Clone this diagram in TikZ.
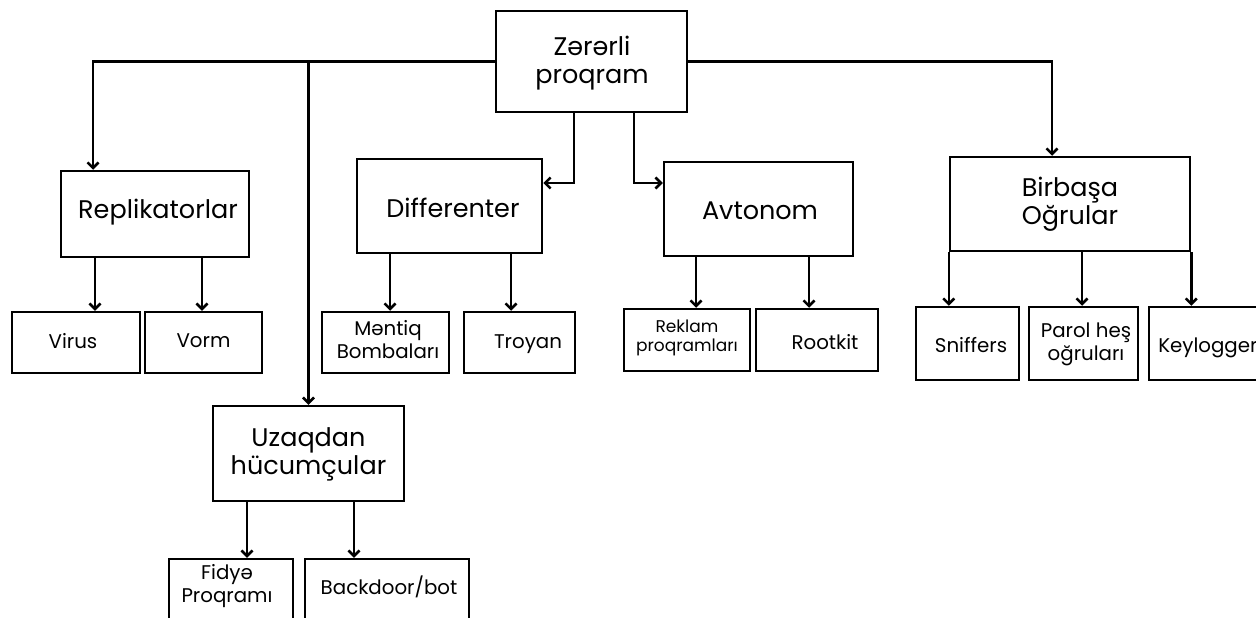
\documentclass[tikz,border=0pt]{standalone}
\usepackage{fontspec}
\setmainfont{Poppins}
\usetikzlibrary{arrows.meta}
\begin{document}
\begin{tikzpicture}[x=1pt,y=-1pt,
  line width=2.5pt,
  box/.style={draw=black, line width=2.5pt, rectangle, inner sep=0pt},
  lbl/.style={inner sep=0pt, align=center, font=\fontsize{25.5}{28}\selectfont},
  slbl/.style={inner sep=0pt, align=center, font=\fontsize{19.8}{23}\selectfont},
  tlbl/.style={inner sep=0pt, align=center, font=\fontsize{17}{19}\selectfont},
  arr/.style={-{Straight Barb[length=5.5pt,width=11pt]}, line width=2.5pt}]
\useasboundingbox (0,0) rectangle (1256,618);
\clip (0,0) rectangle (1256,618);

% boxes
\node[box, minimum width=191pt, minimum height=101pt] (root) at (591.5,61.5) {};
\node[box, minimum width=188pt, minimum height=86pt] (repl) at (155,214) {};
\node[box, minimum width=128pt, minimum height=61pt] (virus) at (76,342.5) {};
\node[box, minimum width=117pt, minimum height=61pt] (vorm) at (203.5,342.5) {};
\node[box, minimum width=185pt, minimum height=94pt] (diff) at (449.5,206) {};
\node[box, minimum width=127pt, minimum height=61pt] (mentiq) at (385.5,342.5) {};
\node[box, minimum width=111pt, minimum height=61pt] (troyan) at (519.5,342.5) {};
\node[box, minimum width=189pt, minimum height=94pt] (avt) at (758.5,209) {};
\node[box, minimum width=126pt, minimum height=62pt] (reklam) at (687,340) {};
\node[box, minimum width=122pt, minimum height=62pt] (rootkit) at (817,340) {};
\node[box, minimum width=240pt, minimum height=94pt] (bir) at (1070,204) {};
\node[box, minimum width=103pt, minimum height=73pt] (sniff) at (967.5,343.5) {};
\node[box, minimum width=109pt, minimum height=73pt] (parol) at (1083.5,343.5) {};
\node[box, minimum width=141pt, minimum height=73pt] (keylog) at (1219.5,343.5) {};
\node[box, minimum width=191pt, minimum height=95pt] (uz) at (308.5,453.5) {};
\node[box, minimum width=124pt, minimum height=91pt] (fidye) at (231,604.5) {};
\node[box, minimum width=164pt, minimum height=91pt] (backdoor) at (387,604.5) {};

% labels
\node[lbl] (t-root) at (592,63) {Zərərli\\proqram};
\node[lbl] (t-repl) at (158,212) {Replikatorlar};
\node[slbl] (t-virus) at (73,341) {Virus};
\node[slbl] (t-vorm) at (203.5,341) {Vorm};
\node[lbl] (t-diff) at (453,208) {Differenter};
\node[slbl] (t-mentiq) at (388,340) {Məntiq\\Bombaları};
\node[slbl] (t-troyan) at (528,344) {Troyan};
\node[lbl] (t-avt) at (760,211) {Avtonom};
\node[tlbl] (t-reklam) at (687,338) {Reklam\\proqramları};
\node[slbl] (t-rootkit) at (825,342) {Rootkit};
\node[lbl] (t-bir) at (1070,204) {Birbaşa\\Oğrular};
\node[slbl] (t-sniff) at (971,345) {Sniffers};
\node[slbl] (t-parol) at (1086,344) {Parol heş\\oğruları};
\node[slbl, anchor=west] (t-keylog) at (1157,348) {Keylogger};
\node[lbl] (t-uz) at (308.5,454) {Uzaqdan\\hücumçular};
\node[slbl] (t-fidye) at (227,586) {Fidyə\\Proqramı};
\node[slbl] (t-backdoor) at (389,587) {Backdoor/bot};

% connectors from the root
\draw[arr] (root.west) -| (repl.north -| 93,0);
\draw[arr] (root.west) -| (uz.north);
\draw[arr] (root.east) -| (bir.north -| 1052,0);
\draw[arr] (root.south -| 574,0) |- (diff.east |- 0,183);
\draw[arr] (root.south -| 634,0) |- (avt.west |- 0,183);

% second level
\draw[arr] (repl.south -| 95,0) -- (virus.north -| 95,0);
\draw[arr] (repl.south -| 202,0) -- (vorm.north -| 202,0);
\draw[arr] (diff.south -| 390,0) -- (mentiq.north -| 390,0);
\draw[arr] (diff.south -| 511,0) -- (troyan.north -| 511,0);
\draw[arr] (avt.south -| 696,0) -- (reklam.north -| 696,0);
\draw[arr] (avt.south -| 809,0) -- (rootkit.north -| 809,0);
\draw[arr] (bir.south west) -- (sniff.north -| bir.south west);
\draw[arr] (bir.south -| 1082,0) -- (parol.north -| 1082,0);
\draw[arr] (bir.south east) -- (keylog.north -| bir.south east);
\draw[arr] (uz.south -| 247,0) -- (fidye.north -| 247,0);
\draw[arr] (uz.south -| 354,0) -- (backdoor.north -| 354,0);
\end{tikzpicture}
\end{document}
